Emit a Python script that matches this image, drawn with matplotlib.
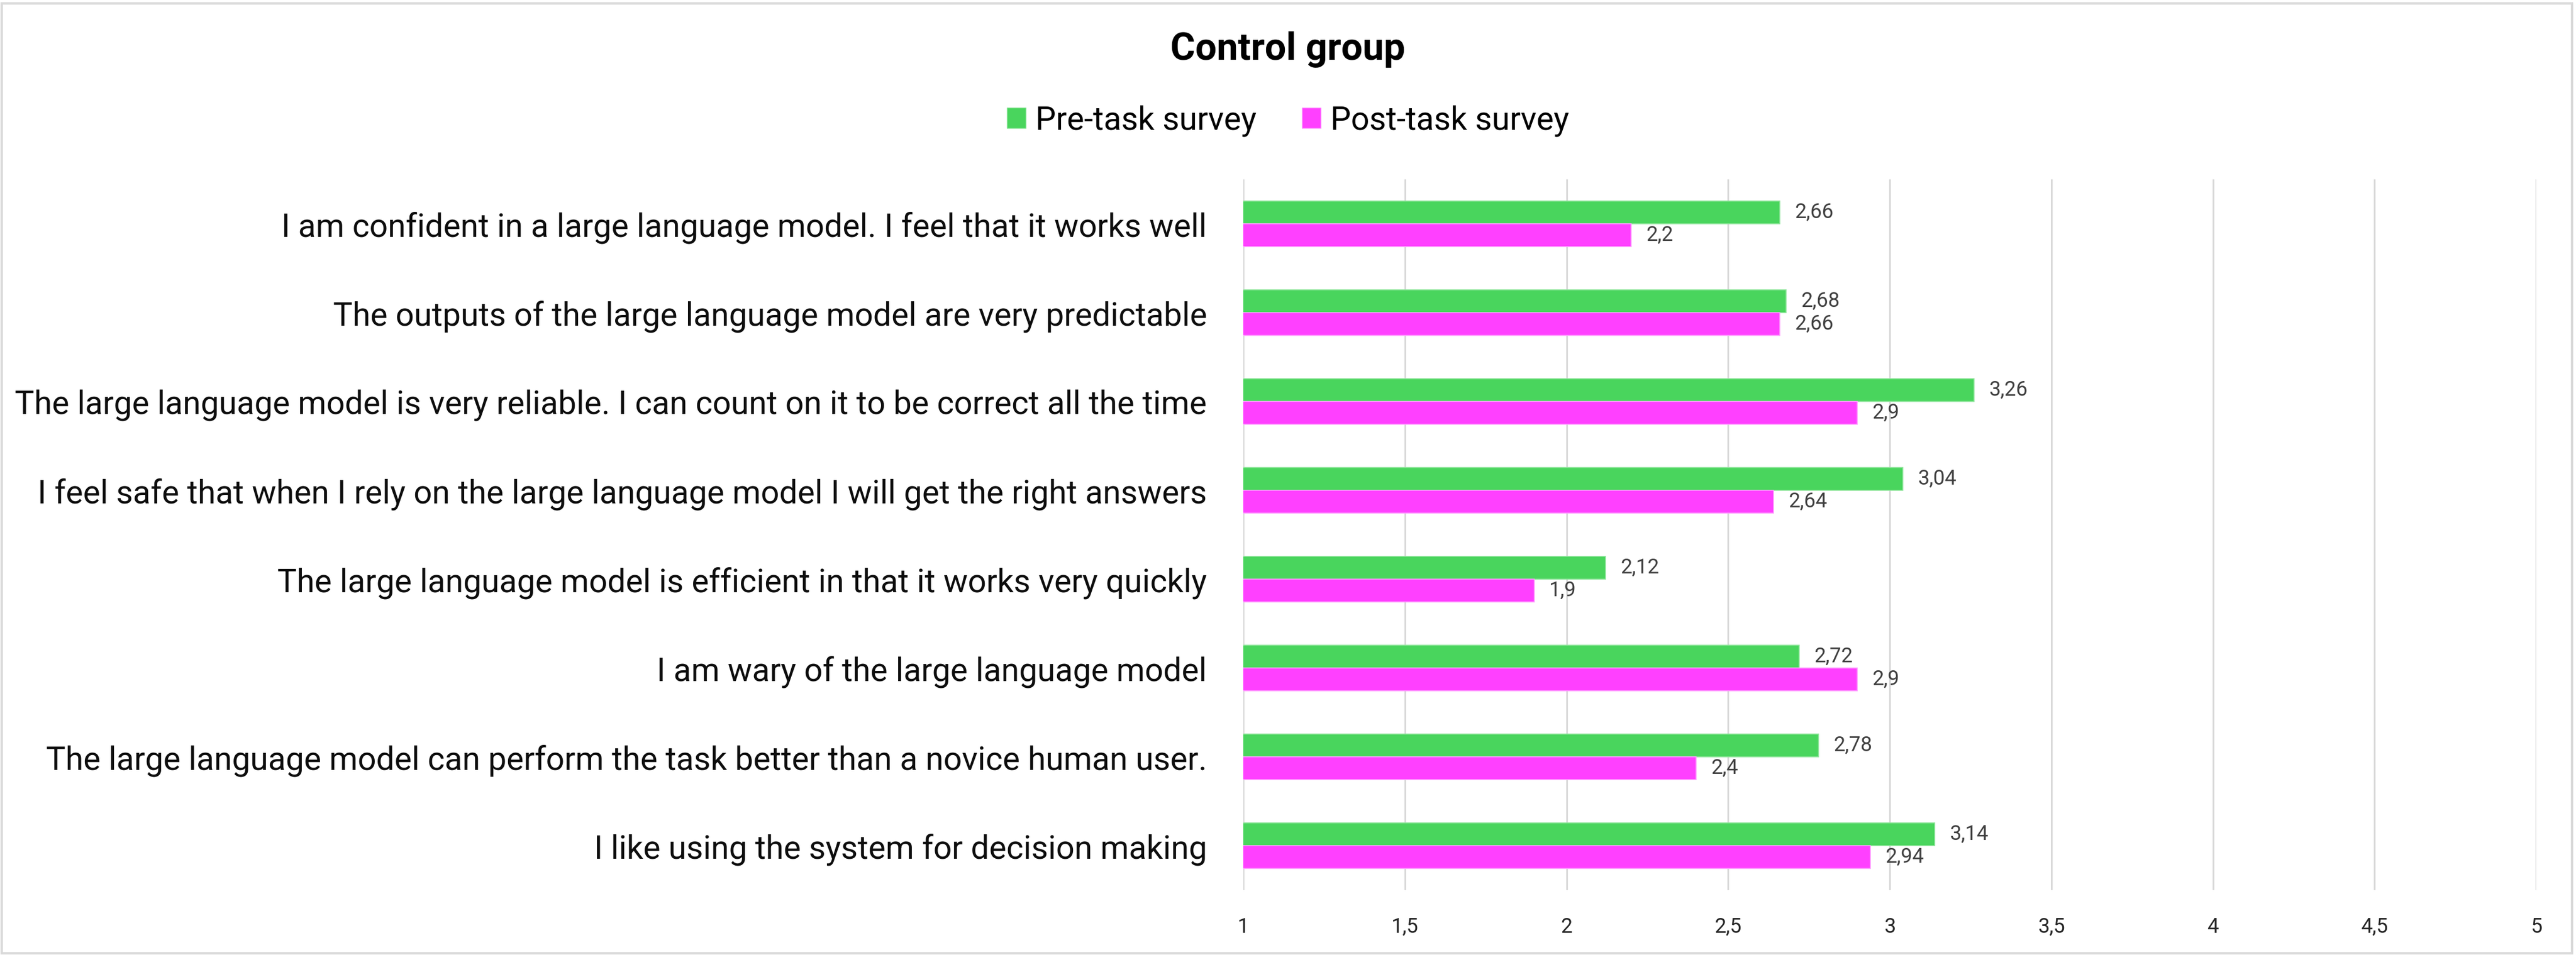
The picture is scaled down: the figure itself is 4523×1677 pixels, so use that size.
import matplotlib
matplotlib.use("Agg")
import matplotlib.pyplot as plt
from matplotlib.patches import Patch, Rectangle

plt.rcParams["font.family"] = ["Roboto", "DejaVu Sans"]

C_PRE, C_POST = "#49D55D", "#FF40FF"
C_GRID = "#D9D9D9"

statements = [
    "I am confident in a large language model. I feel that it works well",
    "The outputs of the large language model are very predictable",
    "The large language model is very reliable. I can count on it to be correct all the time",
    "I feel safe that when I rely on the large language model I will get the right answers",
    "The large language model is efficient in that it works very quickly",
    "I am wary of the large language model",
    "The large language model can perform the task better than a novice human user.",
    "I like using the system for decision making",
]
pre_task = [2.66, 2.68, 3.26, 3.04, 2.12, 2.72, 2.78, 3.14]
post_task = [2.2, 2.66, 2.9, 2.64, 1.9, 2.9, 2.4, 2.94]
xticks = [1, 1.5, 2, 2.5, 3, 3.5, 4, 4.5, 5]

W, H = 4523, 1677
fig = plt.figure(figsize=(W / 100, H / 100), dpi=100)
ax = fig.add_axes([2183 / W, 1 - 1563 / H, (4453 - 2183) / W, (1563 - 315) / H])

bh = 0.256
y = list(range(len(statements)))
ax.barh([i - bh / 2 for i in y], pre_task, height=bh, color=C_PRE,
        edgecolor="#8EE59A", linewidth=1.2, zorder=3)
ax.barh([i + bh / 2 for i in y], post_task, height=bh, color=C_POST,
        edgecolor="#FF9CFF", linewidth=1.2, zorder=3)

def fmt(v):
    return f"{v:g}".replace(".", ",")

for i in y:
    ax.annotate(fmt(pre_task[i]), (pre_task[i], i - bh / 2), xytext=(19, 0),
                textcoords="offset points", va="center", ha="left",
                fontsize=26, color="#404040")
    ax.annotate(fmt(post_task[i]), (post_task[i], i + bh / 2), xytext=(19, 0),
                textcoords="offset points", va="center", ha="left",
                fontsize=26, color="#404040")

ax.set_xlim(1, 5)
ax.set_ylim(len(statements) - 0.5, -0.5)
ax.set_xticks(xticks)
ax.set_xticklabels([fmt(t) for t in xticks], fontsize=26, color="#262626")
ax.set_yticks(y)
ax.set_yticklabels(statements, fontsize=41, color="#0D0D0D")
ax.tick_params(axis="both", length=0)
ax.tick_params(axis="x", pad=34)
ax.tick_params(axis="y", pad=46)
for s in ax.spines.values():
    s.set_visible(False)
ax.grid(axis="x", color=C_GRID, linewidth=2.2, zorder=0)
ax.set_axisbelow(True)

fig.text(0.5, 1 - 105 / H, "Control group", ha="center", va="baseline",
         fontsize=48, fontweight="bold", color="#000000")

handles = [Patch(facecolor=C_PRE, edgecolor="#8EE59A", label="Pre-task survey"),
           Patch(facecolor=C_POST, edgecolor="#FF9CFF", label="Post-task survey")]
fig.legend(handles=handles, loc="center", bbox_to_anchor=(0.5, 1 - 212 / H), ncol=2,
           frameon=False, fontsize=41, handlelength=0.58, handleheight=0.58,
           handletextpad=0.3, columnspacing=1.4)

fig.patches.append(Rectangle((3 / W, 3 / H), (W - 10) / W, (H - 9) / H,
                             transform=fig.transFigure, fill=False,
                             edgecolor=C_GRID, linewidth=3))

fig.savefig("out.png", dpi=100, facecolor="white")
